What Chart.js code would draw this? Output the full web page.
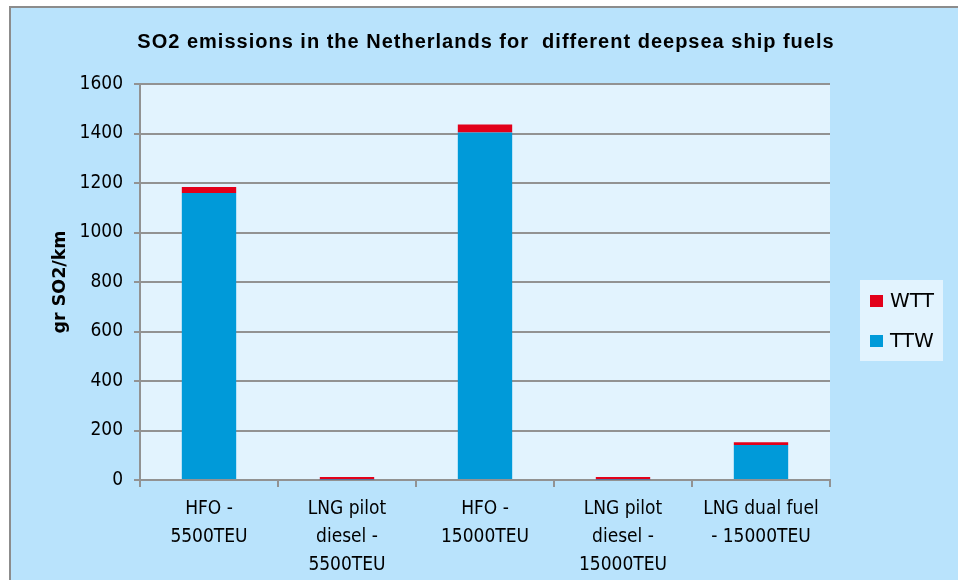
<!DOCTYPE html>
<html>
<head>
<meta charset="utf-8">
<script src="https://cdn.jsdelivr.net/npm/chart.js@4"></script>
<style>
  html, body { margin: 0; padding: 0; background: #fff; overflow: hidden; }
  #frame { position: absolute; left: 9px; top: 6px; width: 960px; height: 590px; border: 2px solid #8c8c8c; background: #b9e3fc; }
  #chart { position: absolute; left: 0; top: 0; }
</style>
</head>
<body>
<div id="frame"></div>
<canvas id="chart" width="958" height="580"></canvas>
<script>
// data
const categories = [
  ["HFO -", "5500TEU"],
  ["LNG pilot", "diesel -", "5500TEU"],
  ["HFO -", "15000TEU"],
  ["LNG pilot", "diesel -", "15000TEU"],
  ["LNG dual fuel", "- 15000TEU"]
];
const ttwValues = [1160, 2, 1404, 2, 141];
const wttValues = [24, 10, 32, 10, 12];
const yMax = 1600;
const yStep = 200;
const chartTitle = 'SO2 emissions in the Netherlands for  different deepsea ship fuels';

const tickFamily = "'DejaVu Sans Condensed', 'DejaVu Sans', sans-serif";
const gridGray = '#929292';

const plotBg = {
  id: 'plotBg',
  beforeDraw(chart) {
    const {ctx, chartArea: a} = chart;
    ctx.save();
    ctx.fillStyle = '#e2f3fe';
    ctx.fillRect(a.left, a.top, a.right - a.left, a.bottom - a.top);
    ctx.restore();
  }
};

// title centred on the whole frame, not just the plot
const frameTitle = {
  id: 'frameTitle',
  afterDraw(chart) {
    const ctx = chart.ctx;
    ctx.save();
    ctx.font = "bold 20px 'Liberation Sans', Arial, sans-serif";
    ctx.letterSpacing = '1px';
    ctx.fillStyle = '#000';
    ctx.textAlign = 'center';
    ctx.textBaseline = 'middle';
    ctx.fillText(chartTitle, chart.width / 2 + 7, 42);
    ctx.restore();
  }
};

// legend box on the right, WTT listed first
const boxLegend = {
  id: 'boxLegend',
  afterDraw(chart) {
    const {ctx, chartArea: a} = chart;
    const x = a.right + 30, y = a.top + 196;
    ctx.save();
    ctx.fillStyle = '#e2f3fe';
    ctx.fillRect(x, y, 83, 81);
    const items = chart.data.datasets.slice().reverse();
    ctx.font = "20px 'DejaVu Sans', sans-serif";
    ctx.textBaseline = 'middle';
    items.forEach((ds, i) => {
      const cy = y + 21 + i * 40;
      ctx.fillStyle = ds.backgroundColor;
      ctx.fillRect(x + 10, cy - 6, 13, 12);
      ctx.fillStyle = '#000';
      ctx.fillText(ds.label, x + 30, cy + 1);
    });
    ctx.restore();
  }
};

new Chart(document.getElementById('chart'), {
  type: 'bar',
  data: {
    labels: categories,
    datasets: [
      { label: 'TTW', data: ttwValues, backgroundColor: '#009ad9', barPercentage: 0.394, categoryPercentage: 1 },
      { label: 'WTT', data: wttValues, backgroundColor: '#e2001a', barPercentage: 0.394, categoryPercentage: 1 }
    ]
  },
  options: {
    responsive: false,
    animation: false,
    layout: { padding: { left: 0, right: 128, top: 84, bottom: 0 } },
    plugins: {
      legend: { display: false },
      tooltip: { enabled: false },
      title: { display: false }
    },
    scales: {
      x: {
        stacked: true,
        afterFit(scale) { scale.height = 100; },
        grid: { drawOnChartArea: false, drawTicks: true, tickLength: 7, color: gridGray, lineWidth: 2 },
        border: { display: true, color: gridGray, width: 2 },
        ticks: { color: '#000', font: { family: tickFamily, size: 19, lineHeight: 1.47 }, padding: 8, maxRotation: 0, autoSkip: false }
      },
      y: {
        stacked: true,
        min: 0,
        max: yMax,
        afterFit(scale) { scale.width = 140; },
        grid: { color: gridGray, lineWidth: 2, tickLength: 6 },
        border: { display: true, color: gridGray, width: 2 },
        ticks: { stepSize: yStep, color: '#000', font: { family: tickFamily, size: 19 }, padding: 11, callback: v => String(v) },
        title: {
          display: true,
          text: 'gr SO2/km',
          color: '#000',
          font: { family: "'DejaVu Sans', sans-serif", size: 17.5, weight: 'bold' },
          padding: { top: 50, bottom: 0 }
        }
      }
    }
  },
  plugins: [plotBg, frameTitle, boxLegend]
});
</script>
</body>
</html>
